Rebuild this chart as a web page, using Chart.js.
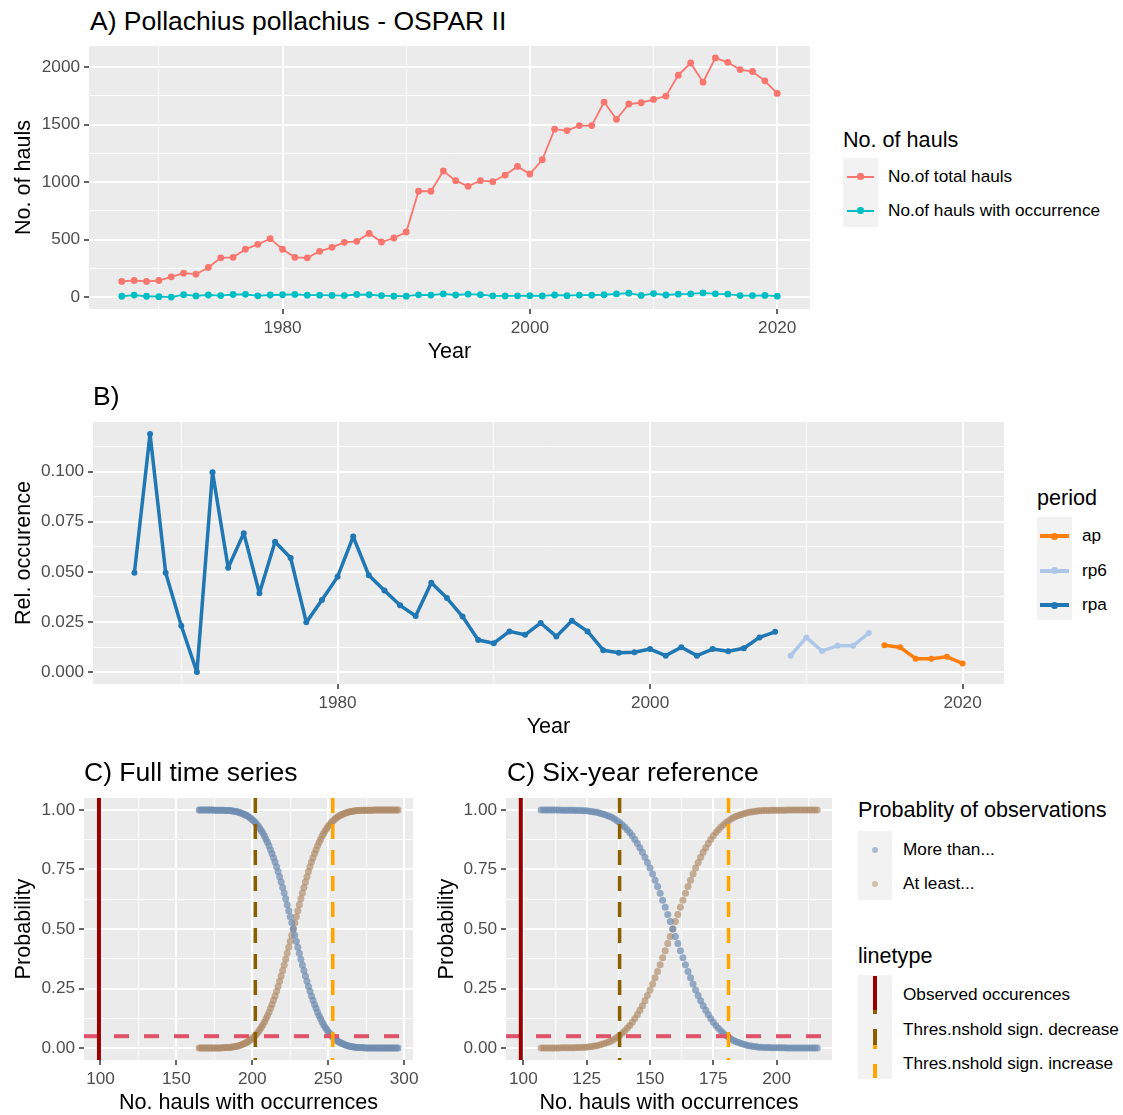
<!DOCTYPE html>
<html>
<head>
<meta charset="utf-8">
<title>Pollachius pollachius - OSPAR II</title>
<script src="https://cdn.jsdelivr.net/npm/chart.js@4.4.1/dist/chart.umd.min.js"></script>
<style>
html,body{margin:0;padding:0;overflow:hidden;background:#fff}
#page{position:relative;width:1123px;height:1115px;overflow:hidden;font-family:"Liberation Sans",Arial,sans-serif}
#page canvas,#page div{position:absolute}
.ptitle{font-size:26.5px;line-height:26.5px;white-space:nowrap;color:#000}
.ltitle{font-size:21.6px;line-height:21.6px;white-space:nowrap;color:#000}
.llab{font-size:17.2px;line-height:17.2px;white-space:nowrap;color:#000}
.kbox{background:#F2F2F2}
</style>
</head>
<body>
<div id="page">
<canvas id="chartA" width="830" height="330" style="left:0;top:40px"></canvas>
<canvas id="chartB" width="1015" height="335" style="left:0;top:410px"></canvas>
<canvas id="chartC1" width="425" height="360" style="left:0;top:760px"></canvas>
<canvas id="chartC2" width="422" height="360" style="left:422px;top:760px"></canvas>

<div class="ptitle" style="left:90px;top:8px">A) Pollachius pollachius - OSPAR II</div>
<div class="ptitle" style="left:93px;top:383px">B)</div>
<div class="ptitle" style="left:84px;top:759px">C) Full time series</div>
<div class="ptitle" style="left:507px;top:759px">C) Six-year reference</div>
<div id="legends"></div>
</div>

<script>
Chart.defaults.font.family = '"Liberation Sans", Arial, sans-serif'
Chart.defaults.animation = false

// A) number of hauls per year
const years = [1967,1968,1969,1970,1971,1972,1973,1974,1975,1976,1977,1978,1979,1980,1981,1982,1983,1984,1985,1986,
1987,1988,1989,1990,1991,1992,1993,1994,1995,1996,1997,1998,1999,2000,2001,2002,2003,2004,2005,2006,
2007,2008,2009,2010,2011,2012,2013,2014,2015,2016,2017,2018,2019,2020]
const totalHauls = [136,144,136,144,176,208,199,257,341,346,416,459,508,416,346,341,398,433,476,485,
554,479,514,566,921,921,1097,1013,964,1013,1004,1062,1137,1071,1195,1461,1449,1492,1492,1697,
1547,1680,1691,1720,1749,1931,2037,1870,2081,2043,1980,1963,1882,1772]
const occHauls = [7,17,7,3,0,21,10,18,13,22,24,11,18,20,23,16,16,14,13,22,
20,13,8,8,19,17,27,18,25,21,11,10,11,12,10,18,12,17,16,20,
27,34,14,30,18,25,27,36,28,25,13,13,14,8]

// B) relative occurrence, split by period
const rpaYears = years.slice(0, 42)
const rpaRel = [0.0495,0.1188,0.0495,0.0231,0,0.0997,0.052,0.0693,0.0393,0.065,
0.0569,0.0248,0.0359,0.0475,0.0676,0.0483,0.0407,0.0333,0.028,0.0446,
0.0369,0.0277,0.016,0.0144,0.0203,0.0186,0.0245,0.0178,0.0256,0.0203,
0.0109,0.0096,0.0099,0.0115,0.0082,0.0124,0.0082,0.0115,0.0104,0.0119,0.0173,0.0201]
const rp6Years = [2009,2010,2011,2012,2013,2014]
const rp6Rel = [0.0082,0.0173,0.0105,0.0132,0.0132,0.0195]
const apYears = [2015,2016,2017,2018,2019,2020]
const apRel = [0.0134,0.0124,0.0067,0.0067,0.0076,0.0043]

// C) probability curves, one value per number of hauls starting at the first x
const fullFirst = 165
const fullMore = [1,1,1,1,1,1,1,1,1,1,0.999,0.999,0.999,0.999,0.999,0.999,0.999,
0.998,0.998,0.997,0.997,0.996,0.995,0.994,0.993,0.992,0.990,
0.988,0.986,0.983,0.981,0.977,0.974,0.969,0.965,0.959,0.953,
0.947,0.939,0.931,0.922,0.912,0.902,0.890,0.877,0.864,0.849,
0.833,0.817,0.799,0.781,0.761,0.741,0.719,0.697,0.674,0.651,
0.627,0.602,0.577,0.551,0.526,0.500,0.474,0.449,0.423,0.398,
0.373,0.349,0.326,0.303,0.281,0.259,0.239,0.219,0.201,0.183,
0.167,0.151,0.136,0.123,0.110,0.098,0.088,0.078,0.069,0.061,
0.053,0.047,0.041,0.035,0.031,0.026,0.023,0.019,0.017,0.014,
0.012,0.010,0.008,0.007,0.006,0.005,0.004,0.003,0.003,0.002,
0.002,0.001,0.001,0,0,0,0,0,0,0,0,0,0,0,0,0,0,0,0,0,0,0,0,0,0]
const fullAtLeast = [0,0,0,0,0,0,0,0,0,0,0,0,0,0,0,0.001,
0.001,0.002,0.002,0.003,0.003,0.004,0.005,0.006,0.007,0.008,
0.010,0.012,0.014,0.017,0.019,0.023,0.026,0.031,0.035,0.041,
0.047,0.053,0.061,0.069,0.078,0.088,0.098,0.110,0.123,0.136,
0.151,0.167,0.183,0.201,0.219,0.239,0.259,0.281,0.303,0.326,
0.349,0.373,0.398,0.423,0.449,0.474,0.500,0.526,0.551,0.577,
0.602,0.627,0.651,0.674,0.697,0.719,0.741,0.761,0.781,0.799,
0.817,0.833,0.849,0.864,0.877,0.890,0.902,0.912,0.922,0.931,
0.939,0.947,0.953,0.959,0.965,0.969,0.974,0.977,0.981,0.983,
0.986,0.988,0.990,0.992,0.993,0.994,0.995,0.996,0.997,0.997,
0.998,0.998,0.999,0.999,0.999,0.999,0.999,0.999,0.999,
1,1,1,1,1,1,1,1,1,1,1,1,1,1,1,1,1]
const sixFirst = 107
const sixMore = [1,1,1,1,1,1,1,1,0.999,0.999,0.999,0.999,0.999,0.999,
0.998,0.998,0.997,0.996,0.996,0.994,0.993,0.991,0.990,0.987,
0.984,0.981,0.977,0.973,0.968,0.962,0.955,0.947,0.938,0.928,
0.917,0.905,0.891,0.876,0.859,0.841,0.822,0.801,0.779,0.756,
0.731,0.705,0.678,0.650,0.621,0.591,0.561,0.531,0.500,0.469,
0.439,0.409,0.379,0.350,0.322,0.295,0.269,0.244,0.221,0.199,
0.178,0.159,0.141,0.124,0.109,0.095,0.083,0.072,0.062,0.053,
0.045,0.038,0.032,0.027,0.023,0.019,0.016,0.013,0.010,0.009,
0.007,0.006,0.004,0.004,0.003,0.002,0.002,
0.001,0.001,0.001,0.001,0.001,0.001,0,0,0,0,0,0,0,0,0,0,0,0,0]
const sixAtLeast = [0,0,0,0,0,0,0,0,0.001,0.001,0.001,0.001,0.001,0.001,
0.002,0.002,0.003,0.004,0.004,0.006,0.007,0.009,0.010,0.013,
0.016,0.019,0.023,0.027,0.032,0.038,0.045,0.053,0.062,0.072,
0.083,0.095,0.109,0.124,0.141,0.159,0.178,0.199,0.221,0.244,
0.269,0.295,0.322,0.350,0.379,0.409,0.439,0.469,0.500,0.531,
0.561,0.591,0.621,0.650,0.678,0.705,0.731,0.756,0.779,0.801,
0.822,0.841,0.859,0.876,0.891,0.905,0.917,0.928,0.938,0.947,
0.955,0.962,0.968,0.973,0.977,0.981,0.984,0.987,0.990,0.991,
0.993,0.994,0.996,0.996,0.997,0.998,0.998,
0.999,0.999,0.999,0.999,0.999,0.999,1,1,1,1,1,1,1,1,1,1,1,1,1]

// observed value and thresholds for each reference period
const fullObserved = 99, fullDecrease = 202, fullIncrease = 253
const sixObserved = 99, sixDecrease = 138, sixIncrease = 181
const sigLevel = 0.05

const pts = (xs, ys) => ys.map((y, i) => ({x: xs[i], y: y}))
const run = (first, ys) => ys.map((y, i) => ({x: first + i, y: y}))

/* panel background + reference lines */
const panel = {
  id: 'panel',
  beforeDraw(chart) {
    const a = chart.chartArea, ctx = chart.ctx
    ctx.save()
    ctx.fillStyle = '#EBEBEB'
    ctx.fillRect(a.left, a.top, a.width, a.height)
    ctx.restore()
  },
  afterDatasetsDraw(chart, args, opts) {
    const a = chart.chartArea, ctx = chart.ctx
    ctx.save()
    ctx.beginPath()
    ctx.rect(a.left, a.top, a.width, a.height)
    ctx.clip()
    ;(opts.lines || []).forEach(l => {
      ctx.strokeStyle = l.color
      ctx.lineWidth = l.width
      ctx.setLineDash(l.dash || [])
      ctx.beginPath()
      if (l.x !== undefined) {
        const px = chart.scales.x.getPixelForValue(l.x)
        ctx.moveTo(px, a.top); ctx.lineTo(px, a.bottom)
      } else {
        const py = chart.scales.y.getPixelForValue(l.y)
        ctx.moveTo(a.left, py); ctx.lineTo(a.right, py)
      }
      ctx.stroke()
    })
    ctx.restore()
  }
}

function axis(o) {
  const isMajor = v => o.major.includes(v)
  return {
    type: 'linear', min: o.min, max: o.max,
    afterBuildTicks: s => { s.ticks = o.major.concat(o.minor).sort((a, b) => a - b).map(v => ({value: v})) },
    afterFit: s => {
      if (o.width) s.width = o.width
      if (o.height) s.height = o.height
      // labels sit well inside the canvas, so no extra room around the plot
      s.paddingTop = s.paddingBottom = s.paddingLeft = s.paddingRight = 0
    },
    border: {display: false},
    grid: {
      color: '#FFFFFF',
      lineWidth: c => (c.tick && isMajor(c.tick.value)) ? 2 : 1,
      tickColor: c => (c.tick && isMajor(c.tick.value)) ? '#333333' : 'rgba(0,0,0,0)',
      tickLength: 5, tickWidth: 1.5
    },
    ticks: {
      autoSkip: false, maxRotation: 0, minRotation: 0, padding: 4,
      color: '#4D4D4D', font: {size: 17.2},
      callback: v => isMajor(v) ? o.fmt(v) : ''
    },
    title: {display: true, text: o.title, color: '#000000', font: {size: 21.6, lineHeight: 1.2}, padding: o.tpad}
  }
}

function makeChart(id, type, datasets, x, y, pad, lines) {
  return new Chart(document.getElementById(id), {
    type: type,
    data: {datasets: datasets},
    options: {
      responsive: false, devicePixelRatio: 1, animation: false,
      layout: {padding: pad},
      scales: {x: x, y: y},
      plugins: {legend: {display: false}, tooltip: {enabled: false}, panel: {lines: lines || []}}
    },
    plugins: [panel]
  })
}

const yearAxis = () => axis({min: 1964.35, max: 2022.65, major: [1980, 2000, 2020], minor: [1970, 1990, 2010],
  fmt: v => String(v), title: 'Year', height: 61, tpad: {top: 0, bottom: 5}})

/* A: hauls */
makeChart('chartA', 'line', [
  {data: pts(years, totalHauls), borderColor: '#F8766D', backgroundColor: '#F8766D', borderWidth: 1.8,
   pointRadius: 3.4, pointBorderWidth: 0, pointBackgroundColor: '#F8766D'},
  {data: pts(years, occHauls), borderColor: '#00BFC4', backgroundColor: '#00BFC4', borderWidth: 1.8,
   pointRadius: 3.4, pointBorderWidth: 0, pointBackgroundColor: '#00BFC4'}
], yearAxis(),
  axis({min: -104, max: 2185, major: [0, 500, 1000, 1500, 2000], minor: [250, 750, 1250, 1750],
    fmt: v => String(v), title: 'No. of hauls', width: 89, tpad: {top: 11, bottom: 0}}),
  {top: 6, right: 20, left: 0, bottom: 0})

/* B: relative occurrence */
const periodColors = {ap: '#FF7F0E', rp6: '#AEC7E8', rpa: '#1F77B4'}
const bSet = (xs, ys, c) => ({data: pts(xs, ys), borderColor: c, backgroundColor: c, borderWidth: 3.5,
  borderJoinStyle: 'round', borderCapStyle: 'round',
  pointRadius: 3, pointBorderWidth: 0, pointBackgroundColor: c})
makeChart('chartB', 'line', [
  bSet(rpaYears, rpaRel, periodColors.rpa),
  bSet(rp6Years, rp6Rel, periodColors.rp6),
  bSet(apYears, apRel, periodColors.ap)
], yearAxis(),
  axis({min: -0.00594, max: 0.12474, major: [0, 0.025, 0.05, 0.075, 0.1], minor: [0.0125, 0.0375, 0.0625, 0.0875, 0.1125],
    fmt: v => v.toFixed(3), title: 'Rel. occurence', width: 93, tpad: {top: 11, bottom: 0}}),
  {top: 12, right: 11, left: 0, bottom: 0})

/* C: probability of observations */
const moreColor = 'rgba(112,142,178,0.72)'
const leastColor = 'rgba(175,140,106,0.68)'
const cSet = (d, c) => ({data: d, backgroundColor: c, pointBackgroundColor: c, pointRadius: 3.5, pointBorderWidth: 0})
const probAxis = (tp) => axis({min: -0.05, max: 1.05, major: [0, 0.25, 0.5, 0.75, 1], minor: [0.125, 0.375, 0.625, 0.875],
  fmt: v => v.toFixed(2), title: 'Probability', width: 84, tpad: {top: tp, bottom: 0}})
const refLines = (obs, dec, inc) => [
  {y: sigLevel, color: '#E0516A', width: 4, dash: [15, 15]},
  {x: dec, color: '#8B5E00', width: 3.5, dash: [15, 11]},
  {x: inc, color: '#FFA500', width: 3.5, dash: [15, 11]},
  {x: obs, color: '#990000', width: 4}
]

makeChart('chartC1', 'scatter', [
  cSet(run(fullFirst, fullMore), moreColor),
  cSet(run(fullFirst, fullAtLeast), leastColor)
], axis({min: 89.15, max: 305.85, major: [100, 150, 200, 250, 300], minor: [125, 175, 225, 275],
    fmt: v => String(v), title: 'No. hauls with occurrences', height: 60, tpad: {top: 0, bottom: 4}}),
  probAxis(11), {top: 38, right: 12, left: 0, bottom: 0},
  refLines(fullObserved, fullDecrease, fullIncrease))

makeChart('chartC2', 'scatter', [
  cSet(run(sixFirst, sixMore), moreColor),
  cSet(run(sixFirst, sixAtLeast), leastColor)
], axis({min: 93.15, max: 221.85, major: [100, 125, 150, 175, 200], minor: [112.5, 137.5, 162.5, 187.5, 212.5],
    fmt: v => String(v), title: 'No. hauls with occurrences', height: 60, tpad: {top: 0, bottom: 4}}),
  probAxis(12), {top: 38, right: 12, left: 0, bottom: 0},
  refLines(sixObserved, sixDecrease, sixIncrease))

/* legends */
const leg = document.getElementById('legends')
function el(cls, css, text) {
  const d = document.createElement('div')
  if (cls) d.className = cls
  d.style.cssText = css
  if (text) d.textContent = text
  leg.appendChild(d)
  return d
}
function lineKey(x, y, w, c, lw, r) {
  el('', `left:${x}px;top:${y - lw / 2}px;width:${w}px;height:${lw}px;background:${c}`)
  el('', `left:${x + w / 2 - r}px;top:${y - r}px;width:${2 * r}px;height:${2 * r}px;border-radius:50%;background:${c}`)
}

// A legend
const haulLabels = ['No.of total hauls', 'No.of hauls with occurrence']
const haulColors = ['#F8766D', '#00BFC4']
el('ltitle', 'left:843px;top:129px', 'No. of hauls')
el('kbox', 'left:843px;top:158px;width:35px;height:69px')
haulLabels.forEach((t, i) => {
  const y = 176.5 + i * 34
  lineKey(847, y, 27, haulColors[i], 2, 3.2)
  el('llab', `left:888px;top:${y - 9}px`, t)
})

// B legend
const periods = ['ap', 'rp6', 'rpa']
el('ltitle', 'left:1037px;top:487px', 'period')
el('kbox', 'left:1037px;top:517px;width:35px;height:103px')
periods.forEach((p, i) => {
  const y = 536 + i * 34.5
  lineKey(1040, y, 29, periodColors[p], 4, 3.5)
  el('llab', `left:1082px;top:${y - 9}px`, p)
})

// C legends
const probLabels = ['More than...', 'At least...']
const probColors = ['rgba(112,142,178,0.55)', 'rgba(175,140,106,0.5)']
el('ltitle', 'left:858px;top:799px', 'Probablity of observations')
el('kbox', 'left:858px;top:831px;width:34px;height:69px')
probLabels.forEach((t, i) => {
  const y = 850 + i * 34
  el('', `left:872px;top:${y - 3}px;width:6px;height:6px;border-radius:50%;background:${probColors[i]}`)
  el('llab', `left:903px;top:${y - 9}px`, t)
})

const lineLabels = ['Observed occurences', 'Thres.nshold sign. decrease', 'Thres.nshold sign. increase']
el('ltitle', 'left:858px;top:945px', 'linetype')
el('kbox', 'left:858px;top:975px;width:34px;height:104px')
el('', 'left:873px;top:976px;width:4px;height:34px;background:#990000')
el('', 'left:873px;top:1010px;width:4px;height:4px;background:#8B5E00')
el('', 'left:873px;top:1029px;width:4px;height:16px;background:#8B5E00')
el('', 'left:873px;top:1045px;width:4px;height:4px;background:#FFA500')
el('', 'left:873px;top:1064px;width:4px;height:14px;background:#FFA500')
lineLabels.forEach((t, i) => {
  el('llab', `left:903px;top:${995 + i * 34.5 - 9}px`, t)
})
</script>
</body>
</html>
